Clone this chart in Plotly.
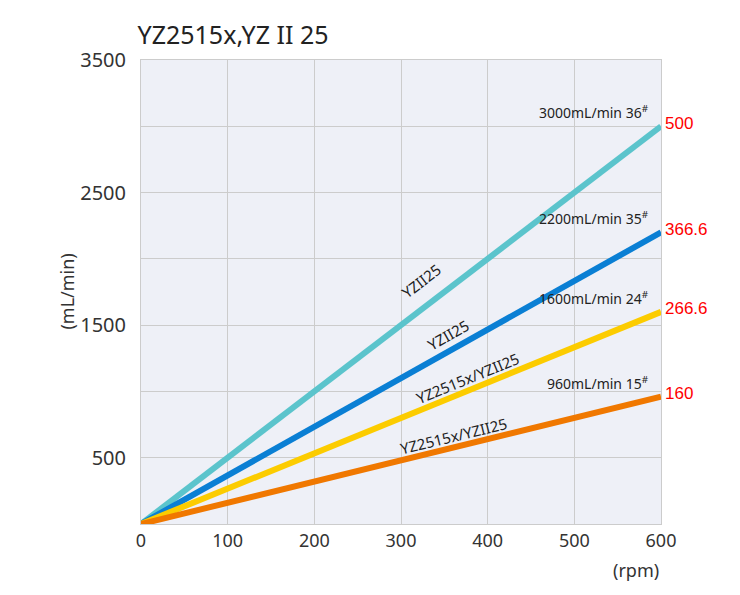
import plotly.graph_objects as go

# rpm range and flow (mL/min) at 600 rpm for each tube size
rpm = [0, 600]
flow_36 = [0, 3000]
flow_35 = [0, 2200]
flow_24 = [0, 1600]
flow_15 = [0, 960]

series = [
    (flow_36, "#5bc4cc", "3000mL/min 36<sup>#</sup>", "500", "YZII25", 323, 1833, -37.4),
    (flow_35, "#0a7fd4", "2200mL/min 35<sup>#</sup>", "366.6", "YZII25", 354, 1426, -29.3),
    (flow_24, "#fccc00", "1600mL/min 24<sup>#</sup>", "266.6", "YZ2515x/YZII25", 377, 1101, -22.1),
    (flow_15, "#f07800", "960mL/min 15<sup>#</sup>", "160", "YZ2515x/YZII25", 360, 664, -13.7),
]

fig = go.Figure()

for y, color, note, val, name, lx, ly, ang in series:
    fig.add_trace(go.Scatter(x=rpm, y=y, mode="lines",
                             line=dict(color=color, width=6), showlegend=False))
    fig.add_annotation(x=rpm[1], y=y[1], text=note, showarrow=False,
                       xanchor="right", yanchor="bottom", xshift=-10, yshift=2,
                       font=dict(size=14, color="#222", family="Noto Sans"))
    fig.add_annotation(x=rpm[1], y=y[1], text=val, showarrow=False,
                       xanchor="left", xshift=2, yshift=3,
                       font=dict(size=17, color="#ff0000", family="Liberation Sans"))
    fig.add_annotation(x=lx, y=ly, text=name, showarrow=False, textangle=ang,
                       font=dict(size=15, color="#222", family="Noto Sans"))

fig.update_layout(
    width=740, height=595, template="plotly_white",
    margin=dict(l=133, r=87, t=52, b=79, autoexpand=False),
    plot_bgcolor="#eef0f7", paper_bgcolor="white",
    font=dict(family="Noto Sans", color="#333"),
    title=dict(text="YZ2515x,YZ II 25", x=0.175, xanchor="left", y=0.955,
               yanchor="middle", font=dict(size=25, color="#222")),
)
fig.update_xaxes(range=[0, 600], tickvals=[0, 100, 200, 300, 400, 500, 600],
                 tickfont=dict(size=18), gridcolor="#cccccc", showline=True,
                 linecolor="#cccccc", mirror=True, zeroline=False, automargin=False)
fig.update_yaxes(range=[0, 3500], tickvals=[0, 500, 1000, 1500, 2000, 2500, 3000, 3500],
                 ticktext=["", "500", "", "1500", "", "2500", "", "3500"],
                 tickfont=dict(size=20), gridcolor="#cccccc", showline=True,
                 linecolor="#cccccc", mirror=True, zeroline=False, automargin=False,
                 ticks="outside", ticklen=10, tickcolor="white")
fig.add_annotation(x=-0.17, y=0.5, xref="paper", yref="paper", text="(mL/min)",
                   textangle=-90, showarrow=False, font=dict(size=18, color="#333"))
fig.add_annotation(x=1.0, y=-0.13, xref="paper", yref="paper", text="(rpm)",
                   showarrow=False, font=dict(size=18, color="#333"))

fig.write_html("out.html")
